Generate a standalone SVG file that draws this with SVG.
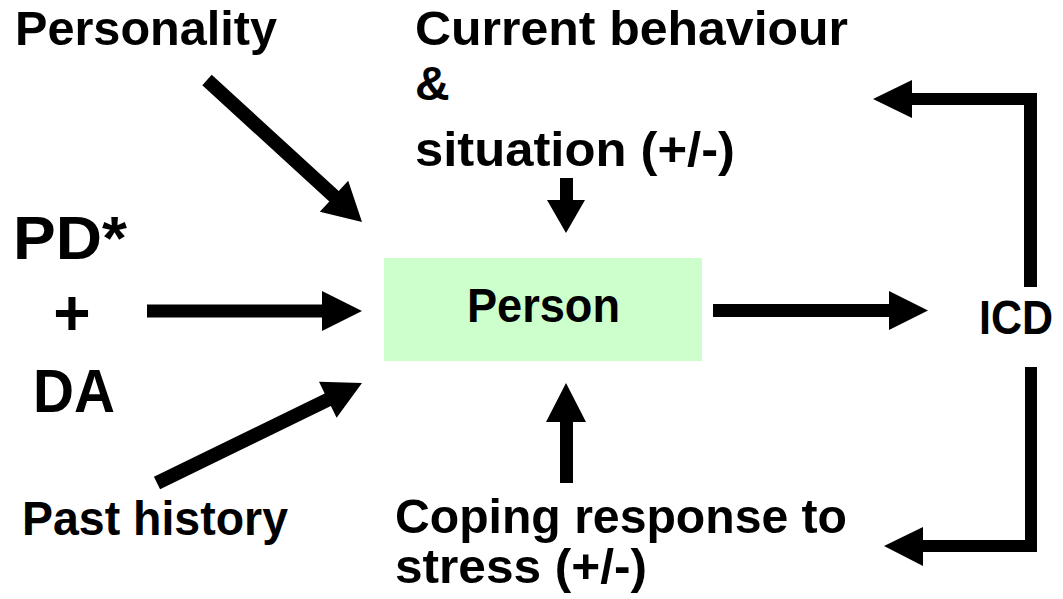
<svg xmlns="http://www.w3.org/2000/svg" width="1063" height="599" viewBox="0 0 1063 599">
<style>
  .lbl { font-family: "Liberation Sans", Arial, sans-serif; font-weight: bold; fill: #000; }
  .m { font-size: 48px; }
  .l { font-size: 61px; }
  .arr { fill: #000; stroke: none; }
</style>
<rect width="1063" height="599" fill="#fff"/>
<g id="connectors">
  <polygon class="arr" points="211.7,74.8 338.7,191.1 348.2,180.8 362,222 319.8,211.8 329.3,201.5 202.3,85.2"/>
  <polygon class="arr" points="147,304.5 322,304.5 322,291 362,311 322,331 322,317.5 147,317.5"/>
  <polygon class="arr" points="153.9,476.7 324.7,393.4 319,381.7 362,383 336.6,417.7 330.9,406 160.1,489.3"/>
  <polygon class="arr" points="560,178 573,178 573,200 585,200 566,233 547,200 560,200"/>
  <polygon class="arr" points="560,483 573,483 573,422 586,422 566,383 546,422 560,422"/>
  <polygon class="arr" points="713,304 889,304 889,291 928,310.5 889,330 889,317 713,317"/>
  <polygon class="arr" points="1024,287 1037,287 1037,93 912,93 912,80 873,99 912,118 912,105 1024,105"/>
  <polygon class="arr" points="1025,367 1037,367 1037,552 923,552 923,566 884,546 923,527 923,540 1025,540"/>
</g>
<g id="node-personality"><text class="lbl m" x="15" y="45" textLength="262" lengthAdjust="spacingAndGlyphs">Personality</text></g>
<g id="node-current">
  <text class="lbl m" x="415" y="45" textLength="433" lengthAdjust="spacingAndGlyphs">Current behaviour</text>
  <text class="lbl m" x="415" y="100">&amp;</text>
  <text class="lbl m" x="415" y="166" textLength="320" lengthAdjust="spacingAndGlyphs">situation (+/-)</text>
</g>
<g id="node-pdda">
  <text class="lbl l" x="13" y="259" textLength="114" lengthAdjust="spacingAndGlyphs">PD*</text>
  <text class="lbl" x="72" y="335" font-size="64" text-anchor="middle">+</text>
  <text class="lbl l" x="33" y="412" textLength="82" lengthAdjust="spacingAndGlyphs">DA</text>
</g>
<g id="node-person">
  <rect x="384" y="258" width="318" height="103" fill="#ccffcc"/>
  <text class="lbl m" x="467" y="322" textLength="153" lengthAdjust="spacingAndGlyphs">Person</text>
</g>
<g id="node-icd"><text class="lbl m" x="979" y="334" textLength="74" lengthAdjust="spacingAndGlyphs">ICD</text></g>
<g id="node-past"><text class="lbl m" x="22" y="535" textLength="266" lengthAdjust="spacingAndGlyphs">Past history</text></g>
<g id="node-coping">
  <text class="lbl m" x="395" y="533" textLength="452" lengthAdjust="spacingAndGlyphs">Coping response to</text>
  <text class="lbl m" x="395" y="583" textLength="252" lengthAdjust="spacingAndGlyphs">stress (+/-)</text>
</g>
</svg>
